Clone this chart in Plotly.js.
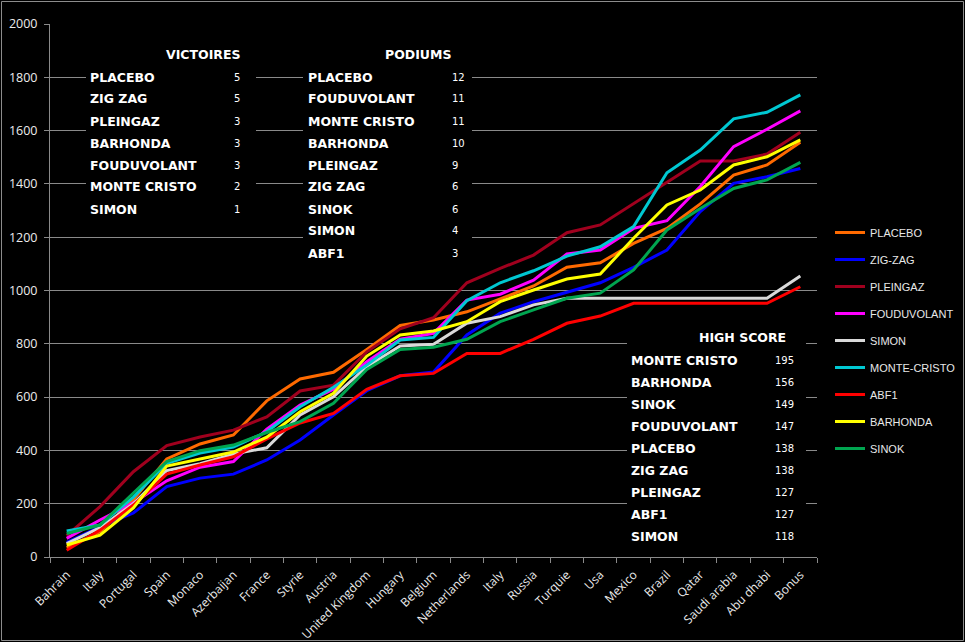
<!DOCTYPE html>
<html>
<head>
<meta charset="utf-8">
<script src="https://cdn.plot.ly/plotly-3.0.1.min.js"></script>
<style>
  body { margin: 0; background: #000; }
  #graph { width: 965px; height: 642px; }
</style>
</head>
<body>
<div id="graph"></div>
<script>
// courses
var categories = ['Bahrain', 'Italy', 'Portugal', 'Spain', 'Monaco', 'Azerbaijan', 'France', 'Styrie',
    'Austria', 'United Kingdom', 'Hungary', 'Belgium', 'Netherlands', 'Italy', 'Russia', 'Turquie',
    'Usa', 'Mexico', 'Brazil', 'Qatar', 'Saudi arabia', 'Abu dhabi', 'Bonus'];

// points cumules par pilote
var placebo     = [35, 95, 215, 368, 424, 458, 586, 668, 693, 779, 869, 889, 920, 967, 1017, 1087, 1104, 1177, 1233, 1325, 1433, 1471, 1556];
var zigzag      = [55, 113, 165, 264, 296, 311, 364, 439, 533, 624, 680, 694, 833, 915, 958, 993, 1029, 1087, 1152, 1296, 1402, 1427, 1458];
var pleingaz    = [80, 189, 320, 418, 450, 476, 526, 623, 645, 770, 856, 898, 1029, 1083, 1133, 1217, 1246, 1327, 1408, 1486, 1486, 1512, 1594];
var fouduvolant = [70, 139, 203, 286, 337, 358, 480, 570, 630, 733, 817, 839, 964, 986, 1039, 1137, 1152, 1233, 1262, 1390, 1540, 1605, 1674];
var simon       = [50, 110, 200, 324, 350, 386, 410, 533, 601, 714, 792, 798, 877, 902, 946, 971, 971, 971, 971, 971, 971, 971, 1054];
var montecristo = [98, 120, 225, 352, 390, 413, 470, 564, 637, 720, 814, 824, 962, 1029, 1074, 1129, 1164, 1240, 1442, 1527, 1644, 1669, 1734];
var abf1        = [25, 101, 195, 311, 345, 376, 443, 503, 539, 629, 680, 689, 764, 764, 817, 877, 904, 952, 952, 952, 952, 952, 1014];
var barhonda    = [45, 82, 184, 341, 368, 394, 450, 545, 614, 754, 833, 848, 883, 958, 1002, 1043, 1062, 1196, 1321, 1377, 1471, 1502, 1565];
var sinok       = [88, 120, 240, 358, 399, 420, 467, 508, 577, 704, 779, 787, 817, 883, 927, 971, 990, 1077, 1227, 1308, 1383, 1415, 1481];

var seriesNames = ['PLACEBO', 'ZIG-ZAG', 'PLEINGAZ', 'FOUDUVOLANT', 'SIMON', 'MONTE-CRISTO', 'ABF1', 'BARHONDA', 'SINOK'];
var seriesValues = [placebo, zigzag, pleingaz, fouduvolant, simon, montecristo, abf1, barhonda, sinok];
var seriesColors = ['#ff6a00', '#0000ff', '#a0001e', '#ff00ff', '#d9d9d9', '#00c8d2', '#ff0000', '#ffff00', '#00a550'];

// tableaux
var victoiresNames = ['PLACEBO', 'ZIG ZAG', 'PLEINGAZ', 'BARHONDA', 'FOUDUVOLANT', 'MONTE CRISTO', 'SIMON'];
var victoiresValues = [5, 5, 3, 3, 3, 2, 1];
var podiumsNames = ['PLACEBO', 'FOUDUVOLANT', 'MONTE CRISTO', 'BARHONDA', 'PLEINGAZ', 'ZIG ZAG', 'SINOK', 'SIMON', 'ABF1'];
var podiumsValues = [12, 11, 11, 10, 9, 6, 6, 4, 3];
var highNames = ['MONTE CRISTO', 'BARHONDA', 'SINOK', 'FOUDUVOLANT', 'PLACEBO', 'ZIG ZAG', 'PLEINGAZ', 'ABF1', 'SIMON'];
var highValues = [195, 156, 149, 147, 138, 138, 127, 127, 118];

var idx = categories.map(function (c, i) { return i; });
var bounds = idx.concat([categories.length]).map(function (i) { return i - 0.5; });

var data = seriesNames.map(function (name, i) {
    return {
        type: 'scatter',
        mode: 'lines',
        name: name,
        legendgroup: name,
        x: idx,
        y: seriesValues[i],
        line: { color: seriesColors[i], width: 3 }
    };
});

// pixel -> paper
var L = 50, R = 817, T = 24, B = 557;
function px(x) { return (x - L) / (R - L); }
function py(y) { return (B - y) / (B - T); }

var annotations = [];
function txt(x, y, text, size, anchor, bold) {
    annotations.push({
        xref: 'paper', yref: 'paper', x: px(x), y: py(y),
        xanchor: anchor, yanchor: 'middle', showarrow: false,
        text: bold ? '<b>' + text + '</b>' : text,
        font: { family: 'DejaVu Sans', size: size, color: '#ffffff' }
    });
}
function table(title, titleRight, nameX, valX, top, names, values) {
    txt(titleRight, top - 23, title, 12.5, 'right', true);
    names.forEach(function (n, i) {
        txt(nameX, top + 22 * i, n, 12.5, 'left', true);
        txt(valX, top + 22 * i, String(values[i]), 10, 'left', false);
    });
}
table('VICTOIRES', 242, 88, 232, 77, victoiresNames, victoiresValues);
table('PODIUMS', 453, 306, 450, 77, podiumsNames, podiumsValues);
table('HIGH SCORE', 788, 629, 773, 360, highNames, highValues);

function box(x0, y0, x1, y1) {
    return { type: 'rect', xref: 'paper', yref: 'paper', x0: px(x0), x1: px(x1), y0: py(y1), y1: py(y0),
             fillcolor: '#000000', line: { width: 0 }, layer: 'above' };
}
var shapes = [
    box(86, 38, 256, 222),
    box(303, 38, 472, 266),
    box(627, 322, 806, 550),
    { type: 'rect', xref: 'paper', yref: 'paper', x0: px(1.5), x1: px(963.5), y0: py(640.5), y1: py(1.5),
      line: { color: '#8c8c8c', width: 1 }, fillcolor: 'rgba(0,0,0,0)' }
];

var grid = '#8a8a8a';
var layout = {
    width: 965,
    height: 642,
    paper_bgcolor: '#000000',
    plot_bgcolor: '#000000',
    margin: { l: L, r: 965 - R, t: T, b: 642 - B, autoexpand: false },
    font: { family: 'Open Sans', color: '#ececec', size: 12 },
    showlegend: true,
    legend: {
        x: px(830), y: py(218), xanchor: 'left', yanchor: 'top',
        bgcolor: 'rgba(0,0,0,0)',
        font: { family: 'Liberation Sans', size: 11, color: '#e8e8e8' },
        tracegroupgap: 8
    },
    xaxis: {
        range: [-0.5, categories.length - 0.5],
        tickmode: 'array',
        tickvals: idx,
        ticktext: categories,
        tickangle: -45,
        tickfont: { size: 12 },
        ticks: 'outside', ticklen: 5, tickcolor: 'rgba(0,0,0,0)',
        minor: { tickmode: 'array', tickvals: bounds, ticks: 'outside', ticklen: 5, tickcolor: grid, showgrid: false },
        showgrid: false,
        zeroline: false,
        showline: true,
        linecolor: grid,
        fixedrange: true
    },
    yaxis: {
        range: [0, 2000],
        dtick: 200,
        ticks: 'outside', ticklen: 5, tickcolor: grid,
        ticklabelstandoff: 4,
        tickfont: { size: 12.5 },
        gridcolor: grid,
        showline: true,
        linecolor: grid,
        zeroline: false,
        fixedrange: true
    },
    shapes: shapes,
    annotations: annotations
};

Plotly.newPlot('graph', data, layout, { displayModeBar: false, staticPlot: true });
</script>
</body>
</html>
